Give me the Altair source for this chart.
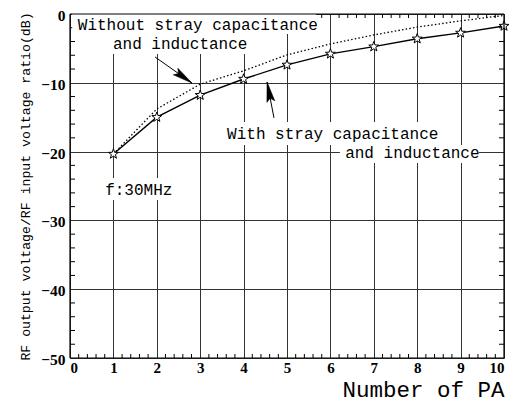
import altair as alt
import pandas as pd

# ---- data ----
pa = [1, 2, 3, 4, 5, 6, 7, 8, 9, 10]
with_stray = [-20.35, -15.0, -11.8, -9.45, -7.4, -5.8, -4.75, -3.6, -2.75, -1.75]
without_stray = [-20.35, -13.8, -10.2, -8.25, -5.95, -4.35, -3.05, -1.9, -1.0, -0.2]

x_ticks = [0, 1, 2, 3, 4, 5, 6, 7, 8, 9, 10]
y_ticks = [-50, -40, -30, -20, -10, 0]
x_minor = [round(i * 0.2, 1) for i in range(1, 50) if i % 5 != 0]
y_minor = [-v for v in range(2, 50, 2) if v % 10 != 0]

# annotation texts (data coordinates)
note_text = ["Without stray capacitance", "and inductance",
             "With stray capacitance", "and inductance", "f:30MHz"]
note_x = [0.18, 0.99, 3.62, 6.34, 0.81]
note_y = [-1.6, -4.36, -17.44, -20.2, -25.6]

# white label boxes behind the texts (data coordinates)
box_x1 = [0.05, 0.88, 3.50, 6.22, 0.69]
box_x2 = [5.67, 4.17, 8.53, 9.42, 2.44]
box_y1 = [0.0, -2.91, -15.7, -19.04, -23.84]
box_y2 = [-2.91, -5.81, -19.04, -21.66, -27.03]

# arrows: start, tip, head angle
arrow_x0 = [1.96, 4.70]
arrow_y0 = [-6.25, -15.1]
arrow_x1 = [2.81, 4.54]
arrow_y1 = [-10.03, -9.88]
arrow_angle = [125, 349]

W, H = 434, 344
XD, YD = [0, 10], [-50, 0]

xs = alt.Scale(domain=XD, nice=False, zero=False)
ys = alt.Scale(domain=YD, nice=False, zero=False)

star_path = ("M0,-1L0.235,-0.324L0.951,-0.309L0.380,0.124L0.588,0.809"
             "L0,0.4L-0.588,0.809L-0.380,0.124L-0.951,-0.309L-0.235,-0.324Z")
arrow_path = "M0,0L0.8,4L0,3.3L-0.8,4Z"

df = pd.DataFrame({"pa": pa, "with": with_stray, "without": without_stray})
boxes = pd.DataFrame({"x1": box_x1, "x2": box_x2, "y1": box_y1, "y2": box_y2})
notes = pd.DataFrame({"t": note_text, "x": note_x, "y": note_y})
arrows = pd.DataFrame({"x0": arrow_x0, "y0": arrow_y0, "x1": arrow_x1,
                       "y1": arrow_y1, "a": arrow_angle})
xm = pd.DataFrame({"x": x_minor})
ym = pd.DataFrame({"y": y_minor})

LABEL_FONT = "Liberation Serif"
MONO = "Liberation Mono"

x_axis = alt.Axis(values=x_ticks, format="d", grid=True, ticks=False, domain=False,
                  labelFont=LABEL_FONT, labelFontWeight="bold", labelFontSize=15,
                  labelColor="black", labelPadding=2, labelAngle=0,
                  gridColor="#333", gridWidth=1, gridOpacity=1,
                  title="Number of PA", titleFont=MONO, titleFontSize=22.5,
                  titleFontWeight="normal", titleColor="black", titleAlign="right",
                  titleAnchor="end", titleX=W, titleY=38, titleBaseline="alphabetic")
y_axis = alt.Axis(values=y_ticks, format="d", grid=True, ticks=False, domain=False,
                  labelFont=LABEL_FONT, labelFontWeight="bold", labelFontSize=15.5,
                  labelColor="black", labelPadding=5, labelOffset=1.5,
                  gridColor="#333", gridWidth=1, gridOpacity=1,
                  title="RF output voltage/RF input voltage ratio(dB)",
                  titleFont=MONO, titleFontSize=13.2, titleFontWeight="normal",
                  titleColor="black", titleX=-45, titleY=H / 2, titleAngle=270,
                  titleAlign="center", titleBaseline="middle")

# box layer carries the axes
box_layer = alt.Chart(boxes).mark_rect(color="white", opacity=1).encode(
    x=alt.X("x1:Q", scale=xs, axis=x_axis),
    x2="x2:Q",
    y=alt.Y("y1:Q", scale=ys, axis=y_axis),
    y2="y2:Q",
)

tick_len_y = 0.58
tick_len_x = 0.115
tb = alt.Chart(xm).transform_calculate(ya="-50", yb=f"-50+{tick_len_y}").mark_rule(
    color="black", strokeWidth=1).encode(x="x:Q", y="ya:Q", y2="yb:Q")
tt = alt.Chart(xm).transform_calculate(ya="0", yb=f"-{tick_len_y}").mark_rule(
    color="black", strokeWidth=1).encode(x="x:Q", y="ya:Q", y2="yb:Q")
tl = alt.Chart(ym).transform_calculate(xa="0", xb=f"{tick_len_x}").mark_rule(
    color="black", strokeWidth=1).encode(y="y:Q", x="xa:Q", x2="xb:Q")
tr = alt.Chart(ym).transform_calculate(xa="10", xb=f"10-{tick_len_x}").mark_rule(
    color="black", strokeWidth=1).encode(y="y:Q", x="xa:Q", x2="xb:Q")

# boxes again above ticks (cover ticks under labels)
box_top = alt.Chart(boxes).mark_rect(color="white", opacity=1).encode(
    x="x1:Q", x2="x2:Q", y="y1:Q", y2="y2:Q")

text_layer = alt.Chart(notes).mark_text(
    font=MONO, fontSize=16, align="left", baseline="middle", color="black"
).encode(x="x:Q", y="y:Q", text="t:N")

dotted = alt.Chart(df).mark_line(color="black", strokeWidth=1.3, strokeDash=[1.5, 2.2]).encode(
    x="pa:Q", y="without:Q")
solid = alt.Chart(df).mark_line(color="black", strokeWidth=1.4).encode(
    x="pa:Q", y="with:Q")
stars = alt.Chart(df).mark_point(shape=star_path, size=110, filled=True, fill="white",
                                 stroke="black", strokeWidth=1, opacity=1).encode(
    x="pa:Q", y="with:Q")

shafts = alt.Chart(arrows).mark_rule(color="black", strokeWidth=1).encode(
    x="x0:Q", y="y0:Q", x2="x1:Q", y2="y1:Q")
heads = alt.Chart(arrows).mark_point(shape=arrow_path, size=100, filled=True, fill="black",
                                     stroke="black", strokeWidth=0.5, opacity=1).encode(
    x="x1:Q", y="y1:Q", angle=alt.Angle("a:Q", scale=None))

frame_v = alt.Chart(pd.DataFrame({"x": XD})).transform_calculate(ya="-50", yb="0").mark_rule(
    color="black", strokeWidth=1.2).encode(x="x:Q", y="ya:Q", y2="yb:Q")
frame_h = alt.Chart(pd.DataFrame({"y": YD})).transform_calculate(xa="0", xb="10").mark_rule(
    color="black", strokeWidth=1.2).encode(y="y:Q", x="xa:Q", x2="xb:Q")

chart = alt.layer(
    box_layer, tb, tt, tl, tr, box_top, text_layer, dotted, solid, stars,
    shafts, heads, frame_v, frame_h
).properties(
    width=W, height=H,
    autosize=alt.AutoSizeParams(type="none"),
    padding={"left": 62, "top": 6, "right": 9, "bottom": 47},
).configure_view(stroke=None).configure(background="white")

chart.save("out.html", embed_options={"renderer": "svg", "actions": False})
